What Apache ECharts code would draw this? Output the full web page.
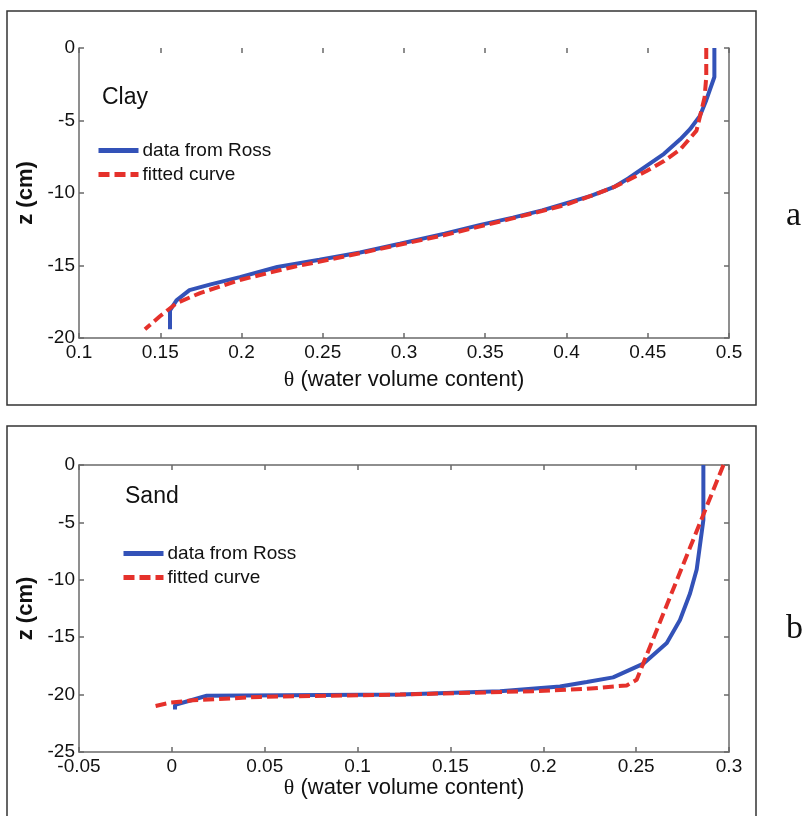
<!DOCTYPE html>
<html>
<head>
<meta charset="utf-8">
<style>
    body { margin: 0; background: #fff; }
    #main { width: 804px; height: 816px; }
</style>
</head>
<body>
<div id="main"></div>
<script type="text/javascript" src="https://cdn.jsdelivr.net/npm/echarts@6/dist/echarts.min.js"></script>
<script type="text/javascript">
    // Clay (a)
    var clayRossTheta = [0.491, 0.491, 0.486, 0.482, 0.476, 0.470, 0.460, 0.447, 0.438, 0.429, 0.415, 0.400, 0.385, 0.367, 0.347, 0.325, 0.2975, 0.273, 0.248, 0.222, 0.199, 0.181, 0.168, 0.160, 0.156, 0.156];
    var clayRossZ = [0, -2.0, -3.6, -4.7, -5.6, -6.3, -7.3, -8.3, -9.0, -9.6, -10.2, -10.7, -11.2, -11.7, -12.2, -12.8, -13.5, -14.1, -14.6, -15.1, -15.8, -16.3, -16.7, -17.4, -18.1, -19.4];
    var clayFitTheta = [0.486, 0.486, 0.485, 0.480, 0.470, 0.460, 0.449, 0.429, 0.415, 0.400, 0.383, 0.365, 0.347, 0.325, 0.300, 0.2625, 0.2317, 0.199, 0.1745, 0.160, 0.1498, 0.1406];
    var clayFitZ = [0, -2.0, -3.4, -5.7, -7.0, -7.8, -8.5, -9.6, -10.2, -10.8, -11.3, -11.8, -12.3, -12.9, -13.5, -14.4, -15.1, -16.0, -16.9, -17.6, -18.5, -19.4];

    // Sand (b)
    var sandRossTheta = [0.2862, 0.2862, 0.2826, 0.279, 0.2736, 0.2665, 0.254, 0.2376, 0.2234, 0.209, 0.1767, 0.1229, 0.0188, 0.008, 0.0017, 0.0017];
    var sandRossZ = [0, -4.8, -9.1, -11.2, -13.5, -15.5, -17.3, -18.5, -18.9, -19.3, -19.7, -20.0, -20.1, -20.6, -20.9, -21.3];
    var sandFitTheta = [0.297, 0.2850, 0.2705, 0.2568, 0.2503, 0.2449, 0.2234, 0.1945, 0.1229, 0.0475, 0.0114, -0.001, -0.0091];
    var sandFitZ = [0, -4.8, -10.6, -16.1, -18.7, -19.2, -19.5, -19.7, -20.0, -20.2, -20.5, -20.7, -21.0];

    var seriesNames = ['data from Ross', 'fitted curve'];
    var panelNames = ['Clay', 'Sand'];
    var panelLetters = ['a', 'b'];

    function pairs(xs, ys) {
        var out = [];
        for (var i = 0; i < xs.length; i++) out.push([xs[i], ys[i]]);
        return out;
    }

    var axisColor = '#6a6a6a';
    var font = 'Liberation Sans, Arial, sans-serif';
    var blue = '#3352b8';
    var red = '#e5312b';

    function mainX(grid, min, max, gap) {
        return {
            type: 'value', gridIndex: grid, min: min, max: max, interval: 0.05,
            name: '{t|θ} (water volume content)', nameLocation: 'middle', nameGap: gap,
            nameTextStyle: { fontFamily: font, fontSize: 22, color: '#111',
                rich: { t: { fontFamily: 'Liberation Serif', fontSize: 22, color: '#111' } } },
            axisLine: { show: true, onZero: false, lineStyle: { color: axisColor, width: 1.5 } },
            axisTick: { show: true, inside: true, length: 5, lineStyle: { color: axisColor, width: 1.5 } },
            axisLabel: { fontFamily: font, fontSize: 19, color: '#111', margin: 5 },
            splitLine: { show: false }
        };
    }
    function mainY(grid, min) {
        return {
            type: 'value', gridIndex: grid, min: min, max: 0, interval: 5,
            name: 'z (cm)', nameLocation: 'middle', nameGap: 42, nameRotate: 90, nameMoveOverlap: false,
            nameTextStyle: { fontFamily: font, fontSize: 22, fontWeight: 'bold', color: '#111' },
            axisLine: { show: true, onZero: false, lineStyle: { color: axisColor, width: 1.5 } },
            axisTick: { show: true, inside: true, length: 5, lineStyle: { color: axisColor, width: 1.5 } },
            axisLabel: { fontFamily: font, fontSize: 19, color: '#111', margin: 4 },
            splitLine: { show: false }
        };
    }
    function boxX(grid, min, max, line) {
        return {
            type: 'value', gridIndex: grid, min: min, max: max, interval: 0.05, position: 'top',
            axisLine: { show: line, onZero: false, lineStyle: { color: axisColor, width: 1.5 } },
            axisTick: { show: true, inside: true, length: 5, lineStyle: { color: axisColor, width: 1.5 } },
            axisLabel: { show: false }, splitLine: { show: false }
        };
    }
    function boxY(grid, min) {
        return {
            type: 'value', gridIndex: grid, min: min, max: 0, interval: 5, position: 'right',
            axisLine: { show: true, onZero: false, lineStyle: { color: axisColor, width: 1.5 } },
            axisTick: { show: true, inside: true, length: 5, lineStyle: { color: axisColor, width: 1.5 } },
            axisLabel: { show: false }, splitLine: { show: false }
        };
    }
    function lineSeries(name, x, y, data, dashed) {
        return {
            name: name, type: 'line', xAxisIndex: x, yAxisIndex: y,
            data: data, showSymbol: false, symbol: 'none', smooth: false, z: dashed ? 3 : 2,
            lineStyle: { width: 4, color: dashed ? red : blue, type: dashed ? [11, 5] : 'solid' },
            itemStyle: { color: dashed ? red : blue }
        };
    }
    function legendAt(left, top) {
        return {
            left: left, top: top, orient: 'vertical', data: seriesNames,
            itemWidth: 40, itemHeight: 14, itemGap: 5, selectedMode: false,
            itemStyle: { opacity: 0 },
            lineStyle: { width: 5 },
            textStyle: { fontFamily: font, fontSize: 19, color: '#111', padding: [0, 0, 0, -1] }
        };
    }

    var myChart = echarts.init(document.getElementById('main'));
    var option = {
        backgroundColor: '#fff',
        animation: false,
        grid: [
            { left: 79, top: 48, width: 650, height: 290 },
            { left: 79, top: 465, width: 650, height: 287 }
        ],
        title: [
            { text: panelNames[0], left: 97, top: 81, textStyle: { fontFamily: font, fontSize: 23, fontWeight: 'normal', color: '#111' } },
            { text: panelNames[1], left: 120, top: 480, textStyle: { fontFamily: font, fontSize: 23, fontWeight: 'normal', color: '#111' } }
        ],
        legend: [legendAt(91, 136), legendAt(116, 539)],
        xAxis: [mainX(0, 0.1, 0.5, 31), boxX(0, 0.1, 0.5, false), mainX(1, -0.05, 0.3, 25), boxX(1, -0.05, 0.3, true)],
        yAxis: [mainY(0, -20), boxY(0, -20), mainY(1, -25), boxY(1, -25)],
        series: [
            lineSeries(seriesNames[0], 0, 0, pairs(clayRossTheta, clayRossZ), false),
            lineSeries(seriesNames[1], 0, 0, pairs(clayFitTheta, clayFitZ), true),
            lineSeries(seriesNames[0], 2, 2, pairs(sandRossTheta, sandRossZ), false),
            lineSeries(seriesNames[1], 2, 2, pairs(sandFitTheta, sandFitZ), true)
        ],
        graphic: [
            { type: 'rect', shape: { x: 7, y: 11, width: 749, height: 394 }, style: { fill: 'none', stroke: '#333', lineWidth: 1.5 } },
            { type: 'rect', shape: { x: 7, y: 426, width: 749, height: 400 }, style: { fill: 'none', stroke: '#333', lineWidth: 1.5 } },
            { type: 'text', left: 786, top: 199, style: { text: panelLetters[0], font: '34px Liberation Serif', fill: '#111' } },
            { type: 'text', left: 786, top: 612, style: { text: panelLetters[1], font: '34px Liberation Serif', fill: '#111' } }
        ]
    };
    myChart.setOption(option);
</script>
</body>
</html>
